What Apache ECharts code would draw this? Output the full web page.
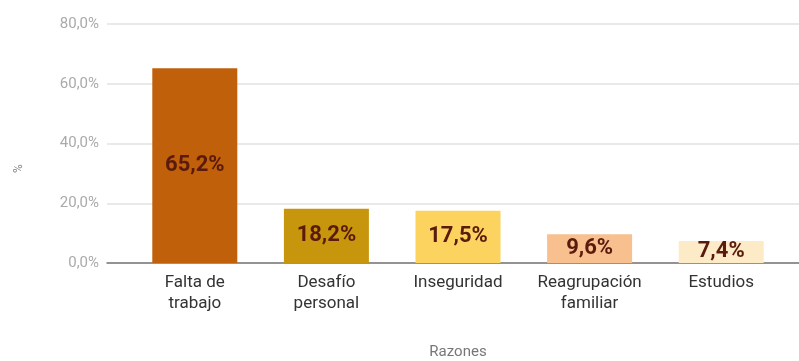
<!DOCTYPE html>
<html>
<head>
<meta charset="utf-8">
<script src="https://cdn.jsdelivr.net/npm/echarts@6/dist/echarts.min.js"></script>
<style>
  html, body { margin: 0; padding: 0; background: #fff; }
  #chart { width: 799px; height: 361px; }
</style>
</head>
<body>
<div id="chart"></div>
<script>
// Reasons and their share (%)
const categories = ['Falta de\ntrabajo', 'Desafío\npersonal', 'Inseguridad', 'Reagrupación\nfamiliar', 'Estudios'];
const values = [65.2, 18.2, 17.5, 9.6, 7.4];
const barColors = ['#c0600a', '#c8960c', '#fcd35e', '#f8c08e', '#fdeac6'];
const yTicks = { min: 0, max: 80, interval: 20 };

const fmt = v => v.toFixed(1).replace('.', ',') + '%';

const chart = echarts.init(document.getElementById('chart'), null, { renderer: 'canvas' });

chart.setOption({
  animation: false,
  textStyle: { fontFamily: 'Roboto, "Noto Sans", sans-serif' },
  grid: [
    // background grid: y-axis labels, full-width gridlines and baseline
    { left: 107, right: 0, top: 24, bottom: 98, containLabel: false, outerBoundsMode: 'none' },
    // bars
    { left: 129, right: 12, top: 24, bottom: 98, containLabel: false, outerBoundsMode: 'none' }
  ],
  xAxis: [
    {
      gridIndex: 0, type: 'value', min: 0, max: 1,
      axisLine: { show: true, lineStyle: { color: '#777', width: 1.5 } },
      axisTick: { show: false },
      axisLabel: { show: false },
      splitLine: { show: false }
    },
    {
      gridIndex: 1,
      type: 'category',
      data: categories,
      name: 'Razones',
      nameLocation: 'middle',
      nameGap: 82,
      nameTextStyle: { color: '#777', fontSize: 15 },
      axisLine: { show: false },
      axisTick: { show: false },
      axisLabel: { color: '#333', fontSize: 17, lineHeight: 21, margin: 9, interval: 0 }
    }
  ],
  yAxis: [
    {
      gridIndex: 0,
      type: 'value',
      min: yTicks.min, max: yTicks.max, interval: yTicks.interval,
      name: '%',
      nameLocation: 'middle',
      nameGap: 82,
      nameRotate: 90,
      nameTextStyle: { color: '#888', fontSize: 12, padding: [0, 50, 0, 0] },
      axisLine: { show: false },
      axisTick: { show: false },
      axisLabel: { color: '#aaa', fontSize: 15, margin: 8, formatter: v => v.toFixed(1).replace('.', ',') + '%' },
      splitLine: { show: true, lineStyle: { color: '#e2e2e2', width: 1.5 } }
    },
    {
      gridIndex: 1,
      type: 'value',
      min: yTicks.min, max: yTicks.max, interval: yTicks.interval,
      show: false,
      splitLine: { show: false }
    }
  ],
  series: [{
    type: 'bar',
    xAxisIndex: 1,
    yAxisIndex: 1,
    barWidth: 85,
    z: 3,
    data: values.map((v, i) => ({ value: v, itemStyle: { color: barColors[i] } })),
    label: {
      show: true,
      position: 'inside',
      color: '#5a1a0c',
      fontSize: 22,
      fontWeight: 'bold',
      formatter: p => fmt(p.value)
    }
  }]
});
</script>
</body>
</html>
